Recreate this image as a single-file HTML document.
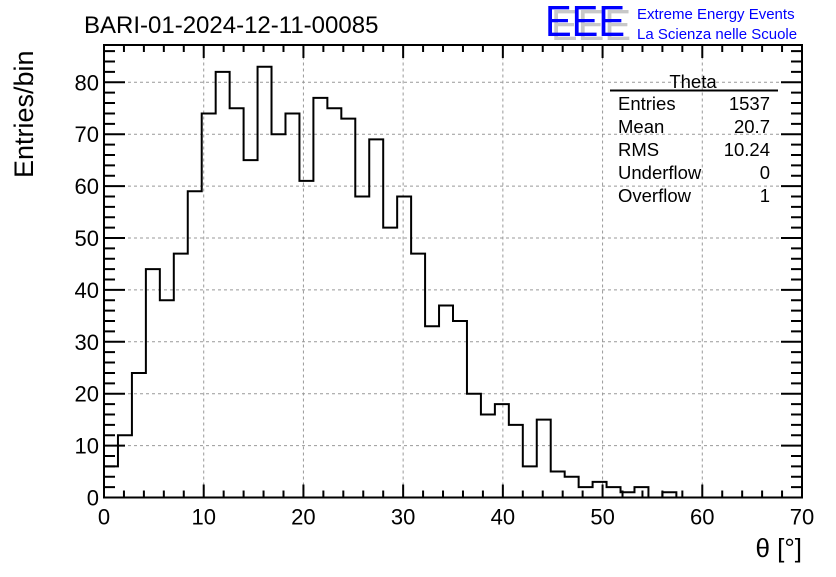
<!DOCTYPE html>
<html><head><meta charset="utf-8"><style>
body{margin:0;background:#fff;}
svg text{font-family:"Liberation Sans",Arial,sans-serif;}
</style></head><body>
<svg id="chart" width="836" height="572" xmlns="http://www.w3.org/2000/svg">
<rect width="836" height="572" fill="#fff"/>
<text x="84" y="33" font-size="24">BARI-01-2024-12-11-00085</text>
<g>
<text x="551" y="40" font-size="44" fill="#c8c8c8" textLength="80" lengthAdjust="spacingAndGlyphs">EEE</text>
<text x="545" y="36" font-size="44" fill="#0000ff" textLength="80" lengthAdjust="spacingAndGlyphs">EEE</text>
<text x="637" y="19" font-size="15" fill="#0000ff">Extreme Energy Events</text>
<text x="637" y="39" font-size="15" fill="#0000ff">La Scienza nelle Scuole</text>
</g>
<g id="grid"></g>
<g id="ticks"></g>
<path id="hist" fill="none" stroke="#000" stroke-width="2"/>
<rect x="104" y="45" width="698" height="452.5" fill="none" stroke="#000" stroke-width="2"/>
<g id="labels"></g>
<text transform="translate(33,178) rotate(-90)" font-size="27">Entries/bin</text>
<text x="802" y="557" font-size="26" text-anchor="end">θ [°]</text>
<g font-size="18.5">
<text x="693" y="88" text-anchor="middle">Theta</text>
<line x1="610" y1="90.5" x2="778" y2="90.5" stroke="#000" stroke-width="2"/>
<text x="618" y="110">Entries</text><text x="770" y="110" text-anchor="end">1537</text>
<text x="618" y="133">Mean</text><text x="770" y="133" text-anchor="end">20.7</text>
<text x="618" y="156">RMS</text><text x="770" y="156" text-anchor="end">10.24</text>
<text x="618" y="179">Underflow</text><text x="770" y="179" text-anchor="end">0</text>
<text x="618" y="202">Overflow</text><text x="770" y="202" text-anchor="end">1</text>
</g>
</svg>
<script>
const counts=[6,12,24,44,38,47,59,74,82,75,65,83,70,74,61,77,75,73,58,69,52,58,47,33,37,34,20,16,18,14,6,15,5,4,2,3,2,1,2,0,1,0,0,0,0,0,0,0,0,0];
const binWidth=[1.4];
const xTicks=[0,10,20,30,40,50,60,70];
const yTicks=[0,10,20,30,40,50,60,70,80];
const X0=104,X1=802,Y0=497.5,Y1=45,XMAX=70,YMAX=(497.5-45)/5.19;
const sx=v=>X0+(X1-X0)*v/XMAX, sy=v=>Y0-(Y0-Y1)*v/YMAX;
const NS="http://www.w3.org/2000/svg";
function mk(t,a,p){const e=document.createElementNS(NS,t);for(const k in a)e.setAttribute(k,a[k]);p.appendChild(e);return e;}
const grid=document.getElementById('grid'),ticks=document.getElementById('ticks'),labels=document.getElementById('labels');
xTicks.forEach(v=>{if(v>0&&v<XMAX){const l=mk('line',{x1:sx(v),x2:sx(v),y1:Y0,y2:Y1,stroke:'#999','stroke-dasharray':'3,3'},grid);

}
const t=mk('text',{x:sx(v),y:Y0+27,'font-size':22,'text-anchor':'middle'},labels);t.textContent=v;

});
yTicks.forEach(v=>{if(v>0){const l=mk('line',{x1:X0,x2:X1,y1:sy(v),y2:sy(v),stroke:'#999','stroke-dasharray':'3,3'},grid);

}
const t=mk('text',{x:X0-5,y:sy(v)+8,'font-size':22,'text-anchor':'end'},labels);t.textContent=v;

});
let d='';
for(let v=0;v<=XMAX;v+=2){const L=v%10===0?13:7;d+=`M${sx(v)},${Y0}v${-L}M${sx(v)},${Y1}v${L}`;}
for(let v=0;v<=YMAX;v+=2){const L=v%10===0?21:11;d+=`M${X0},${sy(v)}h${L}M${X1},${sy(v)}h${-L}`;}
mk('path',{d:d,stroke:'#000','stroke-width':2,fill:'none'},ticks);
let p=`M${sx(0)},${sy(counts[0])}`;
counts.forEach((c,i)=>{const a=i*binWidth[0],b=(i+1)*binWidth[0];p+=`L${sx(a)},${sy(c)}L${sx(b)},${sy(c)}`;
if(i<counts.length-1)p+=`L${sx(b)},${sy(counts[i+1])}`;});
document.getElementById('hist').setAttribute('d',p);
</script>
</body></html>
